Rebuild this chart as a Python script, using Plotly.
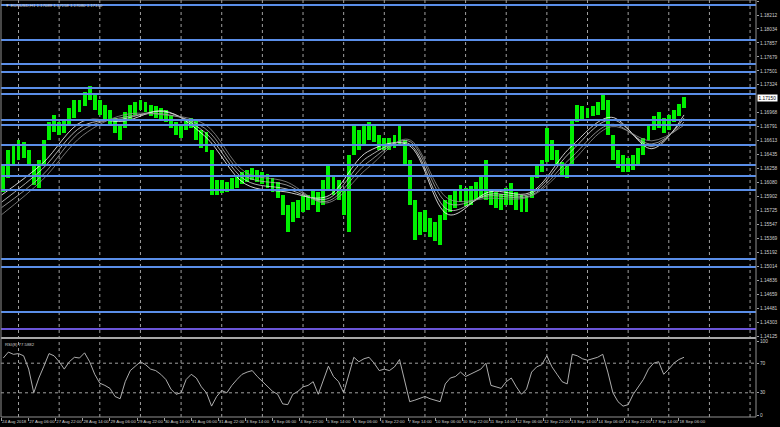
import plotly.graph_objects as go
from plotly.subplots import make_subplots

# ---------------- data ----------------
symbol_title = "EURUSD,H1 1.17089 1.17158 1.17080 1.17150"
rsi_title = "RSI(8) 77.5882"
last_price = 1.17150

x_tick_bars = list(range(0, 401, 16))
x_tick_labels = ["24 Aug 2018", "27 Aug 06:00", "27 Aug 22:00", "28 Aug 14:00", "29 Aug 06:00",
                 "29 Aug 22:00", "30 Aug 14:00", "31 Aug 06:00", "31 Aug 22:00", "3 Sep 14:00",
                 "4 Sep 06:00", "4 Sep 22:00", "5 Sep 14:00", "6 Sep 06:00", "6 Sep 22:00",
                 "7 Sep 14:00", "10 Sep 06:00", "10 Sep 22:00", "11 Sep 14:00", "12 Sep 06:00",
                 "12 Sep 22:00", "13 Sep 14:00", "14 Sep 06:00", "14 Sep 22:00", "17 Sep 14:00",
                 "18 Sep 06:00"]
day_start_bars = [10, 34, 58, 82, 106, 130, 154, 178, 202, 226, 250, 274, 298, 322, 346, 370, 394, 418, 442]

price_tick_labels = ["1.18390", "1.18212", "1.18034", "1.17857", "1.17679", "1.17501", "1.17324",
                     "1.16968", "1.16791", "1.16613", "1.16435", "1.16258", "1.16080", "1.15902",
                     "1.15725", "1.15547", "1.15369", "1.15192", "1.15014", "1.14836", "1.14659",
                     "1.14481", "1.14303", "1.14125"]
rsi_tick_vals = [100, 70, 30, 0]
rsi_levels = [70, 30]

level_prices = [1.18339, 1.17894, 1.17588, 1.17486, 1.17283, 1.17206, 1.16875, 1.16812, 1.16557,
                1.16302, 1.16163, 1.15985, 1.15106, 1.15004, 1.14431]
purple_level = 1.14215

# price ranges, one entry per 3 hourly bars (centre bar index)
grp_bar = list(range(1, 404, 3))
grp_high = [1.1630, 1.1649, 1.1656, 1.1662, 1.1660, 1.1649, 1.1630, 1.1637, 1.1662, 1.1685,
            1.1694, 1.1685, 1.1688, 1.1703, 1.1713, 1.1713, 1.1723, 1.1731, 1.1719, 1.1713,
            1.1707, 1.1700, 1.1690, 1.1681, 1.1698, 1.1707, 1.1710, 1.1713, 1.1710, 1.1707,
            1.1705, 1.1703, 1.1700, 1.1694, 1.1685, 1.1681, 1.1688, 1.1690, 1.1688, 1.1675,
            1.1672, 1.1649, 1.1611, 1.1611, 1.1609, 1.1614, 1.1617, 1.1621, 1.1624, 1.1626,
            1.1624, 1.1621, 1.1619, 1.1614, 1.1609, 1.1592, 1.1579, 1.1583, 1.1586, 1.1591,
            1.1592, 1.1598, 1.1596, 1.1611, 1.1630, 1.1617, 1.1611, 1.1598, 1.1643, 1.1681,
            1.1675, 1.1681, 1.1685, 1.1681, 1.1668, 1.1665, 1.1665, 1.1668, 1.1683, 1.1662,
            1.1637, 1.1586, 1.1571, 1.1573, 1.1563, 1.1558, 1.1567, 1.1586, 1.1592, 1.1598,
            1.1605, 1.1601, 1.1604, 1.1609, 1.1617, 1.1637, 1.1598, 1.1596, 1.1593, 1.1601,
            1.1607, 1.1596, 1.1592, 1.1591, 1.1617, 1.1630, 1.1637, 1.1677, 1.1662, 1.1649,
            1.1634, 1.1630, 1.1688, 1.1707, 1.1705, 1.1703, 1.1705, 1.1710, 1.1719, 1.1713,
            1.1668, 1.1649, 1.1643, 1.1639, 1.1643, 1.1652, 1.1665, 1.1681, 1.1693, 1.1698,
            1.1690, 1.1694, 1.1700, 1.1708, 1.1717]
grp_low = [1.1596, 1.1614, 1.1630, 1.1637, 1.1639, 1.1630, 1.1605, 1.1601, 1.1630, 1.1662,
           1.1672, 1.1668, 1.1671, 1.1681, 1.1690, 1.1698, 1.1705, 1.1713, 1.1700, 1.1694,
           1.1688, 1.1681, 1.1671, 1.1662, 1.1677, 1.1688, 1.1694, 1.1700, 1.1698, 1.1693,
           1.1690, 1.1688, 1.1685, 1.1677, 1.1668, 1.1665, 1.1675, 1.1677, 1.1662, 1.1652,
           1.1647, 1.1592, 1.1592, 1.1595, 1.1596, 1.1598, 1.1601, 1.1606, 1.1609, 1.1611,
           1.1609, 1.1606, 1.1601, 1.1596, 1.1588, 1.1567, 1.1545, 1.1558, 1.1563, 1.1571,
           1.1573, 1.1579, 1.1571, 1.1579, 1.1598, 1.1592, 1.1586, 1.1567, 1.1545, 1.1643,
           1.1649, 1.1656, 1.1662, 1.1660, 1.1649, 1.1649, 1.1649, 1.1652, 1.1656, 1.1630,
           1.1579, 1.1535, 1.1541, 1.1545, 1.1538, 1.1533, 1.1528, 1.1560, 1.1571, 1.1576,
           1.1583, 1.1578, 1.1579, 1.1586, 1.1588, 1.1586, 1.1579, 1.1576, 1.1573, 1.1579,
           1.1579, 1.1573, 1.1571, 1.1571, 1.1588, 1.1614, 1.1621, 1.1634, 1.1637, 1.1630,
           1.1617, 1.1614, 1.1630, 1.1685, 1.1688, 1.1690, 1.1693, 1.1694, 1.1700, 1.1668,
           1.1637, 1.1626, 1.1621, 1.1621, 1.1624, 1.1629, 1.1643, 1.1662, 1.1675, 1.1677,
           1.1671, 1.1675, 1.1685, 1.1693, 1.1703]
grp_rsi = [77, 85, 82, 83, 80, 62, 30, 50, 66, 83, 80, 72, 62, 72, 78, 77, 84, 72, 55, 43,
           40, 36, 25, 22, 45, 60, 66, 72, 68, 62, 60, 55, 48, 35, 28, 30, 48, 55, 50, 38,
           30, 12, 25, 33, 30, 40, 48, 55, 58, 60, 52, 45, 38, 32, 28, 15, 14, 28, 32, 38,
           40, 45, 28, 48, 66, 52, 45, 30, 55, 78, 72, 76, 78, 70, 60, 62, 60, 65, 75, 45,
           18, 20, 22, 25, 22, 20, 18, 42, 50, 52, 58, 52, 55, 58, 62, 70, 40, 38, 36, 45,
           50, 38, 28, 35, 58, 65, 68, 80, 65, 55, 45, 42, 82, 80, 76, 74, 76, 78, 82, 58,
           30, 18, 12, 14, 28, 38, 48, 62, 70, 72, 55, 62, 70, 75, 78]

ma_bar = [0, 24, 48, 72, 96, 120, 144, 168, 192, 216, 240, 264, 288, 312, 336, 360, 384, 403]
ma1 = [1.1592, 1.1632, 1.1686, 1.1686, 1.1699, 1.1667, 1.1606, 1.1596, 1.1590, 1.1647, 1.1656, 1.1567, 1.1596, 1.1595, 1.1653, 1.1691, 1.1651, 1.1694]
ma2 = [1.1583, 1.1625, 1.1680, 1.1689, 1.1698, 1.1672, 1.1611, 1.1600, 1.1587, 1.1640, 1.1658, 1.1573, 1.1593, 1.1593, 1.1647, 1.1688, 1.1654, 1.1690]
ma3 = [1.1576, 1.1617, 1.1675, 1.1691, 1.1695, 1.1677, 1.1616, 1.1605, 1.1584, 1.1633, 1.1661, 1.1581, 1.1591, 1.1591, 1.1639, 1.1682, 1.1657, 1.1685]
ma4 = [1.1567, 1.1611, 1.1668, 1.1694, 1.1694, 1.1682, 1.1621, 1.1609, 1.1582, 1.1626, 1.1663, 1.1587, 1.1588, 1.1590, 1.1633, 1.1679, 1.1661, 1.1681]

# ---------------- figure ----------------
FONT = "Liberation Sans"
TXT = "#d0d0d0"
SMALL = 4.3
fig = make_subplots(rows=2, cols=1, shared_xaxes=True, vertical_spacing=0)

fig.add_trace(go.Bar(x=grp_bar, base=grp_low, y=[h - l for h, l in zip(grp_high, grp_low)],
                     marker=dict(color="#00f000", line=dict(width=0)), width=2.3,
                     showlegend=False, hoverinfo="skip"), row=1, col=1)
for m, c in zip([ma1, ma2, ma3, ma4], ["#ffffff", "#d8d8d8", "#b0b0b0", "#909090"]):
    fig.add_trace(go.Scatter(x=ma_bar, y=m, mode="lines", line=dict(color=c, width=0.8, shape="spline"),
                             showlegend=False, hoverinfo="skip"), row=1, col=1)
fig.add_trace(go.Scatter(x=grp_bar, y=grp_rsi, mode="lines", line=dict(color="#c0c0c0", width=0.9),
                         showlegend=False, hoverinfo="skip"), row=2, col=1)

for p in level_prices:
    fig.add_shape(type="line", xref="paper", x0=0, x1=1, yref="y", y0=p, y1=p,
                  line=dict(color="#5a8ee8", width=2))
fig.add_shape(type="line", xref="paper", x0=0, x1=1, yref="y", y0=purple_level, y1=purple_level,
              line=dict(color="#6a55d8", width=2))
for lv in rsi_levels:
    fig.add_shape(type="line", xref="paper", x0=0, x1=1, yref="y2", y0=lv, y1=lv,
                  line=dict(color="#a0a0a0", width=1, dash="dot"))
for b in day_start_bars:
    fig.add_shape(type="line", xref="x", x0=b, x1=b, yref="paper", y0=0, y1=1,
                  line=dict(color="#a0a0a0", width=1, dash="dot"), layer="below")

# separator and frame
fig.add_shape(type="rect", xref="paper", x0=0, x1=1, yref="paper", y0=0.18705, y1=0.19185,
              fillcolor="#a8a8a8", line=dict(width=0))
fig.add_shape(type="rect", xref="paper", x0=0, x1=1, yref="paper", y0=0, y1=1,
              line=dict(color="#909090", width=1))

fig.add_annotation(xref="paper", yref="paper", x=0, y=1, xanchor="left", yanchor="top", xshift=2, yshift=-1,
                   text="▼ " + symbol_title, showarrow=False, font=dict(family=FONT, size=SMALL, color=TXT))
fig.add_annotation(xref="paper", yref="paper", x=0, y=0.18705, xanchor="left", yanchor="top", xshift=2, yshift=-1,
                   text=rsi_title, showarrow=False, font=dict(family=FONT, size=SMALL, color=TXT))
fig.add_annotation(xref="paper", yref="y", x=1, y=last_price, xanchor="left", yanchor="middle", xshift=1,
                   text=f"{last_price:.5f}", showarrow=False, bgcolor="#ffffff", borderpad=0.5,
                   font=dict(family=FONT, size=4.8, color="#000000"))

price_tick_vals = [float(s) for s in price_tick_labels]
fig.update_layout(
    width=780, height=427, margin=dict(l=1, r=24, t=0, b=10, autoexpand=False),
    paper_bgcolor="#000000", plot_bgcolor="#000000", bargap=0, showlegend=False,
    font=dict(family=FONT, size=SMALL, color=TXT),
    xaxis=dict(domain=[0, 1], range=[-0.35, 445.5], showgrid=False, zeroline=False, automargin=False,
               showticklabels=False, ticks=""),
    xaxis2=dict(domain=[0, 1], range=[-0.35, 445.5], showgrid=False, zeroline=False, automargin=False,
                tickmode="array", tickvals=x_tick_bars, ticktext=x_tick_labels, tickangle=0,
                ticks="outside", ticklen=3, tickcolor="#a0a0a0", ticklabelposition="outside right",
                tickfont=dict(family=FONT, size=SMALL, color=TXT)),
    yaxis=dict(domain=[0.19185, 1], range=[1.14113, 1.18403], side="right", showgrid=False, zeroline=False,
               automargin=False, tickmode="array", tickvals=price_tick_vals, ticktext=price_tick_labels,
               ticks="outside", ticklen=2, tickcolor="#a0a0a0", tickfont=dict(family=FONT, size=4.8, color=TXT)),
    yaxis2=dict(domain=[0, 0.18705], range=[-2.7, 102.7], side="right", showgrid=False, zeroline=False,
                automargin=False, tickmode="array", tickvals=rsi_tick_vals, ticktext=[str(v) for v in rsi_tick_vals],
                ticks="outside", ticklen=2, tickcolor="#a0a0a0", tickfont=dict(family=FONT, size=4.8, color=TXT)),
)

fig.write_html("out.html", config={"displayModeBar": False},
               post_script="document.body.style.margin='0px';document.body.style.padding='0px';")
